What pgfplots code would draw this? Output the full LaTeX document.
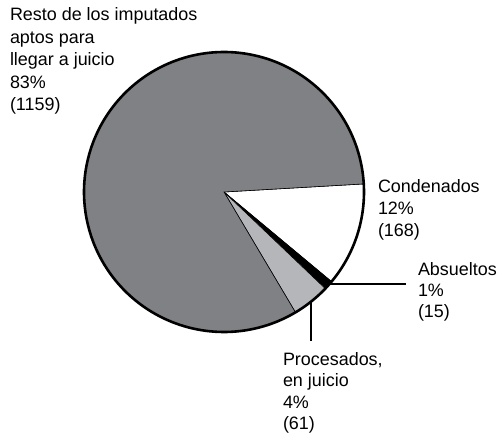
\documentclass[border=0pt]{standalone}
\usepackage{pgfplots}
\pgfplotsset{compat=1.18}
\usepackage{fontspec}
\setmainfont{Liberation Sans}
\definecolor{darkg}{RGB}{128,129,133}
\definecolor{lightg}{RGB}{181,182,186}
\tikzset{lab/.style={inner sep=0pt,outer sep=0pt,anchor=base west,font=\fontsize{18}{22}\selectfont}}
\begin{document}
\begin{tikzpicture}
\def\cx{224}\def\cy{241}\def\rad{140}
\pgfmathsetmacro\tot{1159+168+15+61}
\pgfmathsetmacro\aA{3.3}
\pgfmathsetmacro\aB{\aA-168/\tot*360}
\pgfmathsetmacro\aC{\aB-15/\tot*360}
\pgfmathsetmacro\aD{\aC-61/\tot*360}
\pgfmathsetmacro\aE{\aD-1159/\tot*360}
\begin{axis}[width=500bp,height=433bp,scale only axis,xmin=0,xmax=500,ymin=0,ymax=433,hide axis,clip=false]
\path (axis cs:0,0) rectangle (axis cs:500,433);
% slices
\addplot[fill=white,draw=black,line width=0.6bp,domain=\aB:\aA,samples=40] ({\cx+\rad*cos(x)},{\cy+\rad*sin(x)}) -- (axis cs:\cx,\cy) -- cycle;
\addplot[fill=black,draw=black,line width=0.6bp,domain=\aC:\aB,samples=10] ({\cx+\rad*cos(x)},{\cy+\rad*sin(x)}) -- (axis cs:\cx,\cy) -- cycle;
\addplot[fill=lightg,draw=black,line width=0.6bp,domain=\aD:\aC,samples=20] ({\cx+\rad*cos(x)},{\cy+\rad*sin(x)}) -- (axis cs:\cx,\cy) -- cycle;
\addplot[fill=darkg,draw=black,line width=0.6bp,domain=\aE:\aD,samples=160] ({\cx+\rad*cos(x)},{\cy+\rad*sin(x)}) -- (axis cs:\cx,\cy) -- cycle;
% outer ring
\addplot[draw=black,line width=2.6bp,domain=0:360,samples=200] ({\cx+\rad*cos(x)},{\cy+\rad*sin(x)});
% leader lines
\addplot[draw=black,line width=2bp] coordinates {(330,149) (406,149)};
\addplot[draw=black,line width=2bp] coordinates {(311,131) (311,92)};
% labels
\node[lab] at (axis cs:10,412) {Resto de los imputados};
\node[lab] at (axis cs:10,389.5) {aptos para};
\node[lab] at (axis cs:10,367) {llegar a juicio};
\node[lab] at (axis cs:10,344.5) {83\%};
\node[lab] at (axis cs:10,322) {(1159)};
\node[lab] at (axis cs:378,240) {Condenados};
\node[lab] at (axis cs:378,218) {12\%};
\node[lab] at (axis cs:378,196) {(168)};
\node[lab] at (axis cs:418,158) {Absueltos};
\node[lab] at (axis cs:418,137) {1\%};
\node[lab] at (axis cs:418,116) {(15)};
\node[lab] at (axis cs:283,68) {Procesados,};
\node[lab] at (axis cs:283,46.5) {en juicio};
\node[lab] at (axis cs:283,25) {4\%};
\node[lab] at (axis cs:283,3.5) {(61)};
\end{axis}
\end{tikzpicture}
\end{document}
